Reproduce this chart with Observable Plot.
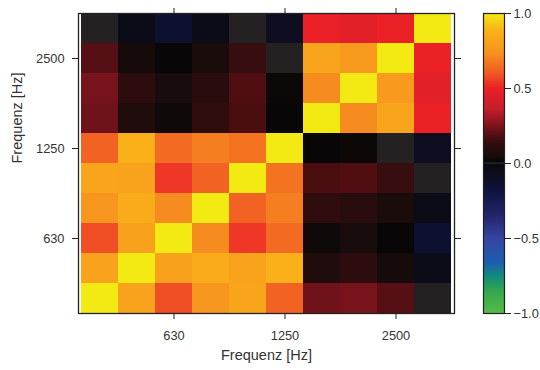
<!DOCTYPE html>
<html>
<head>
<meta charset="utf-8">
<script src="https://cdn.jsdelivr.net/npm/d3@7"></script>
<script src="https://cdn.jsdelivr.net/npm/@observablehq/plot@0.6"></script>
<style>
  html, body { margin: 0; padding: 0; background: #fff; }
  #wrap { position: relative; width: 540px; height: 370px; font-family: "Liberation Sans", Arial, sans-serif; }
  #wrap svg { position: absolute; top: 0; }
</style>
</head>
<body>
<div id="wrap"></div>
<script>
// Third-octave band centre frequencies (Hz)
const freqs = ["400", "500", "630", "800", "1000", "1250", "1600", "2000", "2500", "3150"];
const tickFreqs = ["630", "1250", "2500"];
const axisLabel = "Frequenz [Hz]";

// Correlation matrix, row i / column j follow freqs
const corr = [
  [1.00, 0.81, 0.58, 0.75, 0.82, 0.62, 0.23, 0.24, 0.19, 0.00],
  [0.81, 1.00, 0.80, 0.85, 0.81, 0.87, 0.08, 0.12, 0.045, -0.05],
  [0.58, 0.80, 1.00, 0.72, 0.54, 0.64, 0.03, 0.05, 0.01, -0.14],
  [0.75, 0.85, 0.72, 1.00, 0.62, 0.69, 0.125, 0.11, 0.06, -0.045],
  [0.82, 0.81, 0.54, 0.62, 1.00, 0.66, 0.17, 0.18, 0.14, 0.00],
  [0.62, 0.87, 0.64, 0.69, 0.66, 1.00, 0.01, 0.02, 0.00, -0.08],
  [0.23, 0.08, 0.03, 0.125, 0.17, 0.01, 1.00, 0.72, 0.82, 0.50],
  [0.24, 0.12, 0.05, 0.11, 0.18, 0.02, 0.72, 1.00, 0.77, 0.47],
  [0.19, 0.045, 0.01, 0.06, 0.14, 0.00, 0.82, 0.77, 1.00, 0.50],
  [0.00, -0.05, -0.14, -0.045, 0.00, -0.08, 0.50, 0.47, 0.50, 1.00]
];

// Colour bar ticks
const cbTicks = [-1, -0.5, 0, 0.5, 1];

// Colormap stops
const cmapDomain = [-1, -0.85, -0.75, -0.66, -0.5, -0.37, -0.21, -0.14, -0.07, -0.008, 0, 0.008, 0.05, 0.12, 0.18, 0.27, 0.36, 0.5, 0.6, 0.74, 0.85, 0.9, 1];
const cmapRange = ["#55bb47", "#33a64e", "#108a80", "#1e5cb0", "#3545a2", "#262870", "#121544", "#0e1030", "#0d0d1c", "#0a0a10", "#232121", "#070606", "#180c0c", "#2c0c0e", "#500e12", "#8a1520", "#c41e2a", "#ec2027", "#f15a24", "#f7941e", "#f9ab1a", "#f9b818", "#f3ea14"];

const colorOpts = { type: "linear", domain: cmapDomain, range: cmapRange, clamp: true };

const cells = [];
corr.forEach((row, i) => row.forEach((v, j) => cells.push({ x: freqs[j], y: freqs[i], v })));

const textColor = "#333";
const tickFont = 12.8;

const main = Plot.plot({
  width: 540,
  height: 370,
  marginLeft: 78,
  marginRight: 86,
  marginTop: 13,
  marginBottom: 57,
  style: { fontFamily: "'Liberation Sans', Arial, sans-serif", fontSize: "12px", color: textColor, background: "transparent" },
  x: { type: "band", domain: freqs, padding: 0 },
  y: { type: "band", domain: freqs.slice().reverse(), padding: 0 },
  color: colorOpts,
  marks: [
    Plot.cell(cells, { x: "x", y: "y", fill: "v", inset: 0, shapeRendering: "crispEdges" }),
    Plot.frame({ stroke: "#222", strokeWidth: 1.3 }),
    Plot.axisX(tickFreqs, { anchor: "bottom", tickSize: 6, tickPadding: 11, label: null, stroke: "#222", fill: textColor, fontSize: tickFont }),
    Plot.axisX(tickFreqs, { anchor: "top", tickSize: 6, tickFormat: () => "", label: null, stroke: "#222" }),
    Plot.axisY(tickFreqs, { anchor: "left", tickSize: 6, tickPadding: 8, label: null, stroke: "#222", fill: textColor, fontSize: tickFont }),
    Plot.axisY(tickFreqs, { anchor: "right", tickSize: 6, tickFormat: () => "", label: null, stroke: "#222" }),
    Plot.text([axisLabel], { frameAnchor: "bottom", dy: 46, fontSize: 14.5, fill: textColor }),
    Plot.text([axisLabel], { frameAnchor: "left", dx: -61, rotate: -90, fontSize: 14.5, fill: textColor })
  ]
});
main.style.left = "0px";

const step = 0.004;
const ramp = d3.range(-1, 1, step);

const bar = Plot.plot({
  width: 57,
  height: 370,
  marginLeft: 0,
  marginRight: 36,
  marginTop: 13,
  marginBottom: 57,
  style: { fontFamily: "'Liberation Sans', Arial, sans-serif", fontSize: "12px", color: textColor, background: "transparent", overflow: "visible" },
  x: { domain: [0, 1], axis: null },
  y: { domain: [-1, 1], axis: null },
  color: colorOpts,
  marks: [
    Plot.rect(ramp, { x1: 0, x2: 1, y1: d => d, y2: d => d + step, fill: d => d + step / 2, shapeRendering: "crispEdges" }),
    Plot.ruleY([0], { stroke: "#222", strokeWidth: 1 }),
    Plot.frame({ stroke: "#222", strokeWidth: 1.2 }),
    Plot.axisY(cbTicks, { anchor: "right", tickSize: 6, tickPadding: 3, label: null, stroke: "#222", fill: textColor, fontSize: tickFont,
      tickFormat: d => d.toFixed(1).replace("-", "\u2212") })
  ]
});
bar.style.left = "483px";

const wrap = document.getElementById("wrap");
wrap.appendChild(main);
wrap.appendChild(bar);
</script>
</body>
</html>
